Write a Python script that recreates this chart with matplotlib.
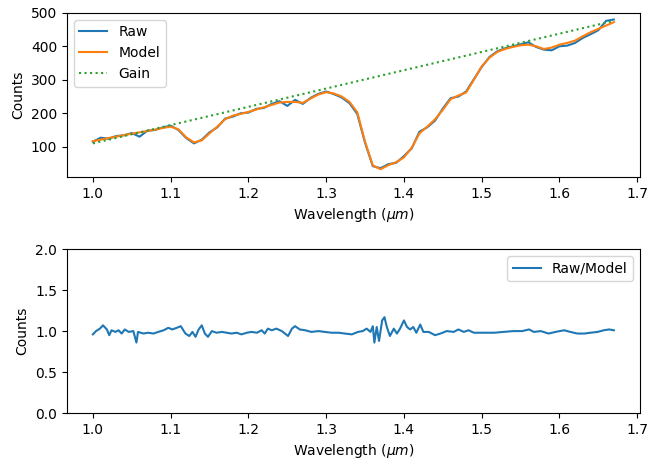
import matplotlib
matplotlib.use("Agg")
import matplotlib.pyplot as plt
import numpy as np

# ── data ───────────────────────────────────────────────────────────────────
wl = np.round(np.arange(1.00, 1.6701, 0.01), 2)

model = [117, 121, 126, 130, 135, 139, 143, 147, 151, 156,
         160, 152, 128, 113, 119, 140, 160, 182, 193, 198,
         204, 211, 218, 225, 232, 234, 234, 231, 244, 256,
         263, 259, 250, 234, 203, 115, 44, 33, 45, 54,
         68, 97, 140, 160, 182, 210, 242, 253, 262, 300,
         340, 366, 383, 392, 398, 403, 405, 400, 392, 396,
         405, 410, 417, 430, 442, 452, 462, 472]

raw = [115, 127, 124, 132, 134, 141, 130, 148, 150, 158,
       163, 150, 126, 110, 121, 143, 158, 184, 190, 200,
       202, 213, 216, 228, 236, 222, 240, 228, 246, 258,
       265, 257, 247, 230, 198, 112, 42, 36, 48, 52,
       72, 95, 145, 158, 178, 214, 245, 250, 265, 302,
       338, 368, 385, 394, 400, 406, 412, 398, 390, 388,
       400, 402, 410, 425, 436, 448, 476, 480]

gain_wl = [1.00, 1.67]
gain = [110, 476]

ratio_wl = [1.000, 1.004, 1.009, 1.013, 1.018, 1.021, 1.024, 1.029, 1.033, 1.037,
            1.041, 1.046, 1.052, 1.056, 1.058, 1.065, 1.071, 1.078, 1.084, 1.091,
            1.097, 1.102, 1.108, 1.113, 1.119, 1.124, 1.128, 1.132, 1.136, 1.140,
            1.144, 1.148, 1.153, 1.159, 1.166, 1.172, 1.178, 1.185, 1.191, 1.198,
            1.204, 1.211, 1.217, 1.221, 1.225, 1.230, 1.236, 1.243, 1.247, 1.251,
            1.256, 1.260, 1.266, 1.273, 1.281, 1.290, 1.298, 1.307, 1.316, 1.324,
            1.333, 1.341, 1.347, 1.352, 1.357, 1.360, 1.362, 1.365, 1.368, 1.372,
            1.375, 1.378, 1.382, 1.387, 1.391, 1.395, 1.400, 1.404, 1.408, 1.412,
            1.416, 1.421, 1.425, 1.432, 1.440, 1.447, 1.455, 1.464, 1.470, 1.477,
            1.483, 1.490, 1.503, 1.516, 1.528, 1.541, 1.552, 1.561, 1.567, 1.576,
            1.586, 1.595, 1.606, 1.614, 1.623, 1.632, 1.640, 1.649, 1.657, 1.664,
            1.670]
ratio = [0.96, 1.00, 1.03, 1.07, 1.02, 0.95, 1.01, 0.99, 1.01, 0.97,
         1.02, 0.99, 1.00, 0.86, 0.99, 0.97, 0.98, 0.97, 0.99, 1.01,
         1.04, 1.02, 1.04, 1.06, 0.97, 0.94, 0.99, 0.93, 1.02, 1.07,
         0.97, 0.93, 1.00, 0.98, 0.99, 0.98, 0.97, 0.98, 0.96, 0.98,
         0.99, 0.98, 1.01, 0.97, 1.03, 1.01, 1.03, 1.00, 0.97, 0.94,
         1.03, 1.06, 1.02, 1.01, 0.99, 1.00, 0.99, 0.98, 0.98, 0.97,
         0.96, 0.99, 1.00, 1.03, 0.99, 1.06, 0.86, 1.05, 0.88, 1.13,
         1.17, 1.05, 0.94, 1.03, 0.97, 1.03, 1.13, 1.05, 1.02, 1.05,
         0.98, 1.08, 0.99, 0.99, 0.95, 0.97, 1.00, 0.99, 1.02, 0.99,
         1.01, 0.98, 0.98, 0.98, 0.99, 1.00, 1.00, 1.02, 0.99, 1.00,
         0.97, 0.99, 1.01, 0.99, 0.97, 0.97, 0.98, 0.99, 1.01, 1.02,
         1.01]

xlabel = r"Wavelength ($\mu m$)"

# ── plot ───────────────────────────────────────────────────────────────────
fig, (ax1, ax2) = plt.subplots(2, 1, figsize=(6.49, 4.58), dpi=100)
fig.subplots_adjust(left=0.103, right=0.986, top=0.972, bottom=0.098,
                    hspace=0.44)

ax1.plot(wl, raw, color="C0", lw=1.5, label="Raw")
ax1.plot(wl, model, color="C1", lw=1.5, label="Model")
ax1.plot(gain_wl, gain, color="C2", ls=":", lw=1.5, label="Gain")
ax1.set_ylim(10, 500)
ax1.set_yticks([100, 200, 300, 400, 500])
ax1.set_xticks([1.0, 1.1, 1.2, 1.3, 1.4, 1.5, 1.6, 1.7])
ax1.set_xlabel(xlabel)
ax1.set_ylabel("Counts")
ax1.legend(loc="upper left")

ax2.plot(ratio_wl, ratio, color="C0", lw=1.5, label="Raw/Model")
ax2.set_ylim(0, 2)
ax2.set_yticks([0.0, 0.5, 1.0, 1.5, 2.0])
ax2.set_xlim(ax1.get_xlim())
ax2.set_xticks([1.0, 1.1, 1.2, 1.3, 1.4, 1.5, 1.6, 1.7])
ax2.set_xlabel(xlabel)
ax2.set_ylabel("Counts")
ax2.legend(loc="upper right")

plt.savefig("out.png", dpi=100)
